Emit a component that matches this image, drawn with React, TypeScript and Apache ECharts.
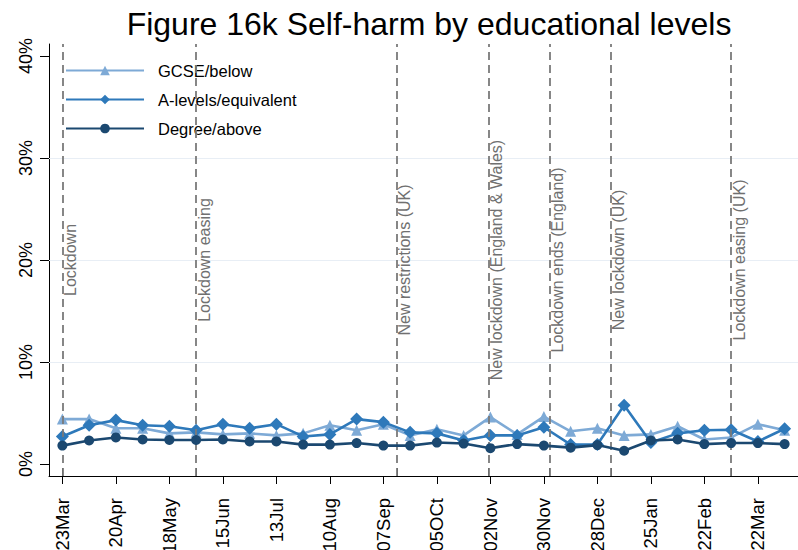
import React, { useEffect, useRef } from "react";
import * as echarts from "echarts";

const TITLE = "Figure 16k Self-harm by educational levels";
const BASE_DATE = "2020-03-23";

const sampleDates = [
  "2020-03-23", "2020-04-06", "2020-04-20", "2020-05-04", "2020-05-18", "2020-06-01", "2020-06-15",
  "2020-06-29", "2020-07-13", "2020-07-27", "2020-08-10", "2020-08-24", "2020-09-07", "2020-09-21",
  "2020-10-05", "2020-10-19", "2020-11-02", "2020-11-16", "2020-11-30", "2020-12-14", "2020-12-28",
  "2021-01-11", "2021-01-25", "2021-02-08", "2021-02-22", "2021-03-08", "2021-03-22", "2021-04-05",
];

const gcseBelow = [
  4.4, 4.4, 3.5, 3.5, 3.0, 3.1, 2.9,
  3.0, 2.8, 3.0, 3.8, 3.3, 3.9, 2.8,
  3.4, 2.8, 4.6, 2.9, 4.65, 3.2, 3.5,
  2.8, 2.9, 3.7, 2.4, 2.6, 3.9, 3.3,
];
const aLevels = [
  2.7, 3.8, 4.3, 3.8, 3.7, 3.3, 3.9,
  3.5, 3.9, 2.7, 2.9, 4.4, 4.1, 3.1,
  3.0, 2.3, 2.8, 2.8, 3.6, 1.9, 1.9,
  5.75, 2.1, 3.0, 3.3, 3.35, 2.2, 3.45,
];
const degreeAbove = [
  1.8, 2.3, 2.6, 2.4, 2.35, 2.35, 2.4,
  2.2, 2.2, 1.9, 1.9, 2.05, 1.8, 1.8,
  2.1, 2.0, 1.55, 1.95, 1.8, 1.6, 1.85,
  1.3, 2.3, 2.4, 1.95, 2.05, 2.05, 1.95,
];

const tickDates = [
  "2020-03-23", "2020-04-20", "2020-05-18", "2020-06-15", "2020-07-13", "2020-08-10", "2020-09-07",
  "2020-10-05", "2020-11-02", "2020-11-30", "2020-12-28", "2021-01-25", "2021-02-22", "2021-03-22",
];
const tickLabels = [
  "23Mar", "20Apr", "18May", "15Jun", "13Jul", "10Aug", "07Sep",
  "05OCt", "02Nov", "30Nov", "28Dec", "25Jan", "22Feb", "22Mar",
];

const eventDates = [
  "2020-03-23", "2020-06-01", "2020-09-14", "2020-11-01", "2020-12-03", "2021-01-04", "2021-03-08",
];
const eventLabels = [
  "Lockdown", "Lockdown easing", "New restrictions (UK)", "New lockdown (England & Wales)",
  "Lockdown ends (England)", "New lockdown (UK)", "Lockdown easing (UK)",
];

const yTicks = [0, 10, 20, 30, 40];
const yGrid = [10, 20, 30];

const seriesNames = ["GCSE/below", "A-levels/equivalent", "Degree/above"];
const seriesColors = ["#7eaad6", "#2e79ba", "#1b4870"];
const seriesSymbols = ["triangle", "diamond", "circle"];
const seriesSizes = [11, 13, 10];

function dayOf(s: string): number {
  const [y, m, d] = s.split("-").map(Number);
  const [by, bm, bd] = BASE_DATE.split("-").map(Number);
  return Math.round((Date.UTC(y, m - 1, d) - Date.UTC(by, bm - 1, bd)) / 86400000);
}

const FONT = "'Liberation Sans', Arial, sans-serif";

export default function App() {
  const ref = useRef<HTMLDivElement>(null);
  useEffect(() => {
    if (!ref.current) return;
    const chart = echarts.init(ref.current, undefined, { renderer: "svg" });
    const sampleDays = sampleDates.map(dayOf);
    const tickDays = tickDates.map(dayOf);
    const eventDays = eventDates.map(dayOf);
    const labelMap: Record<number, string> = {};
    tickDays.forEach((d, i) => (labelMap[d] = tickLabels[i]));
    const values = [gcseBelow, aLevels, degreeAbove];

    const dataSeries = seriesNames.map((name, k) => ({
      name,
      type: "line",
      xAxisIndex: 0,
      yAxisIndex: 0,
      data: sampleDays.map((d, i) => [d, values[k][i]]),
      symbol: seriesSymbols[k],
      symbolSize: seriesSizes[k],
      showAllSymbol: true,
      z: 3 + k,
      lineStyle: { color: seriesColors[k], width: 2.6 },
      itemStyle: { color: seriesColors[k] },
    }));

    chart.setOption({
      animation: false,
      textStyle: { fontFamily: FONT },
      title: {
        text: TITLE,
        left: 424,
        textAlign: "center",
        top: 3,
        textStyle: { fontSize: 32, fontWeight: "normal", color: "#000", fontFamily: FONT },
      },
      legend: {
        data: seriesNames,
        orient: "vertical",
        left: 65,
        top: 62,
        padding: 0,
        itemWidth: 78,
        itemHeight: 12,
        itemGap: 12,
        textStyle: { fontSize: 16.5, color: "#000", fontFamily: FONT, padding: [0, 0, 0, 9] },
      },
      grid: { left: 49, right: 0, top: 44, bottom: 74, outerBoundsMode: "none", containLabel: false },
      xAxis: [
        {
          type: "value",
          min: -7,
          max: 385,
          axisLine: { onZero: false, lineStyle: { color: "#000", width: 1 } },
          axisTick: { customValues: tickDays, length: 8, lineStyle: { color: "#000" } },
          axisLabel: {
            customValues: tickDays,
            rotate: 90,
            margin: 22,
            fontSize: 18.5,
            color: "#000",
            fontFamily: FONT,
            formatter: (v: number) => labelMap[Math.round(v)] ?? "",
          },
          splitLine: { show: false },
        },
        {
          type: "value",
          min: -7,
          max: 385,
          position: "bottom",
          axisLine: { show: false, onZero: false },
          axisTick: { inside: true, customValues: eventDays, length: 8, lineStyle: { color: "#000" } },
          axisLabel: { show: false },
          splitLine: { show: false },
        },
      ],
      yAxis: {
        type: "value",
        min: -1.18,
        max: 41.18,
        axisLine: { show: true, onZero: false, lineStyle: { color: "#000", width: 1 } },
        axisTick: { show: true, customValues: yTicks, length: 9, lineStyle: { color: "#000" } },
        axisLabel: {
          customValues: yTicks,
          rotate: 90,
          margin: 14,
          fontSize: 18,
          color: "#000",
          fontFamily: FONT,
          formatter: (v: number) => `${v}%`,
        },
        splitLine: { show: false },
      },
      series: [
        {
          name: "gridlines",
          type: "line",
          data: [],
          z: 1,
          silent: true,
          markLine: {
            silent: true,
            symbol: ["none", "none"],
            label: { show: false },
            lineStyle: { color: "#e8eef5", width: 1.2, type: "solid" },
            data: yGrid.map((v) => ({ yAxis: v })),
          },
        },
        {
          name: "events",
          type: "line",
          data: [],
          z: 2,
          silent: true,
          markLine: {
            silent: true,
            symbol: ["none", "none"],
            lineStyle: { color: "#7a7a7a", width: 1.8, type: [8, 5] },
            label: {
              show: true,
              position: "insideMiddleBottom",
              distance: 0,
              fontSize: 16,
              color: "#707070",
              fontFamily: FONT,
            },
            data: eventDays.map((d, i) => ({ xAxis: d, label: { formatter: eventLabels[i] } })),
          },
        },
        ...dataSeries,
      ],
    });
    return () => chart.dispose();
  }, []);
  return (
    <div
      ref={ref}
      style={{ position: "fixed", left: 0, top: 0, width: 798, height: 550, background: "#fff" }}
    />
  );
}
